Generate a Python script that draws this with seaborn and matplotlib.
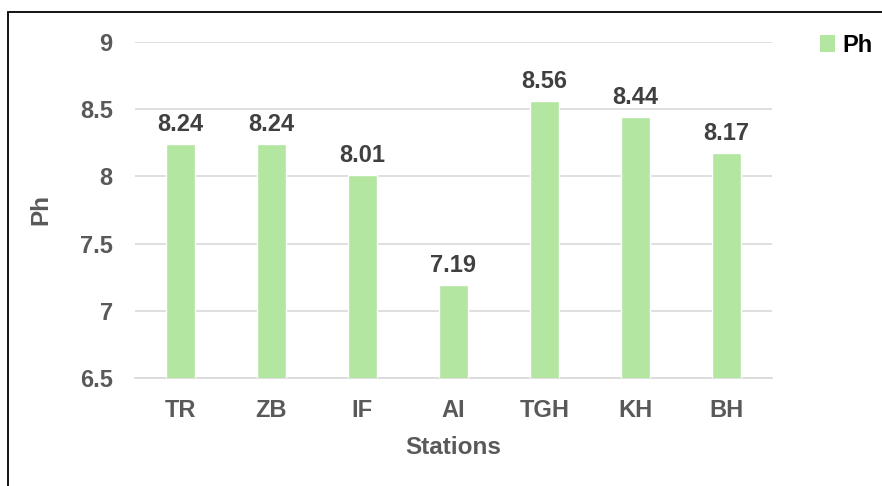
import matplotlib
matplotlib.use("Agg")
import matplotlib.pyplot as plt
import seaborn as sns
import pandas as pd
from matplotlib.patches import Rectangle, Patch

stations = ["TR", "ZB", "IF", "AI", "TGH", "KH", "BH"]
ph_values = [8.24, 8.24, 8.01, 7.19, 8.56, 8.44, 8.17]
y_ticks = [6.5, 7, 7.5, 8, 8.5, 9]
y_tick_labels = ["6.5", "7", "7.5", "8", "8.5", "9"]

sns.set_theme(style="white")
plt.rcParams['font.family'] = ['Liberation Sans', 'DejaVu Sans']

df = pd.DataFrame({"Stations": stations, "Ph": ph_values})

fig = plt.figure(figsize=(8.82, 4.86), dpi=100)
ax = fig.add_axes([0.153, 0.222, 0.722, 0.692])

bar_color = "#B3E6A0"
sns.barplot(data=df, x="Stations", y="Ph", color=bar_color, width=0.32,
            saturation=1, ax=ax, zorder=3)

ax.set_ylim(6.5, 9)
ax.set_yticks(y_ticks)
ax.set_yticklabels(y_tick_labels)
ax.yaxis.grid(True, color="#D9D9D9", linewidth=1.2, zorder=0)
ax.set_axisbelow(True)
for s in ["top", "right", "left"]:
    ax.spines[s].set_visible(False)
ax.spines["bottom"].set_color("#D9D9D9")
ax.spines["bottom"].set_linewidth(1.2)
ax.tick_params(axis="both", length=0, labelsize=17, labelcolor="#595959")
for lbl in ax.get_xticklabels() + ax.get_yticklabels():
    lbl.set_fontweight("bold")
ax.tick_params(axis="x", pad=15)
ax.tick_params(axis="y", pad=16)

ax.set_xlabel("Stations", fontsize=17.5, fontweight="bold", color="#595959", labelpad=10)
ax.set_ylabel("Ph", fontsize=17.5, fontweight="bold", color="#595959", labelpad=20)

for c in ax.containers:
    ax.bar_label(c, labels=[f"{v:.2f}" for v in ph_values], padding=6,
                 fontsize=17, fontweight="bold", color="#404040")

leg = fig.legend(handles=[Patch(facecolor=bar_color, edgecolor="none")], labels=["Ph"],
                 loc="upper left", bbox_to_anchor=(820 / 882, 1 - 34 / 486), frameon=False,
                 borderaxespad=0, borderpad=0,
                 handlelength=0.65, handleheight=0.7, handletextpad=0.3,
                 prop={"size": 17, "weight": "bold"})
for t in leg.get_texts():
    t.set_color("black")

fig.patches.append(Rectangle((8 / 882, -0.05), 1.2, 1 - 12 / 486 + 0.05,
                             transform=fig.transFigure, fill=False,
                             edgecolor="black", linewidth=1.3, zorder=10))

fig.savefig("out.png", dpi=100)
